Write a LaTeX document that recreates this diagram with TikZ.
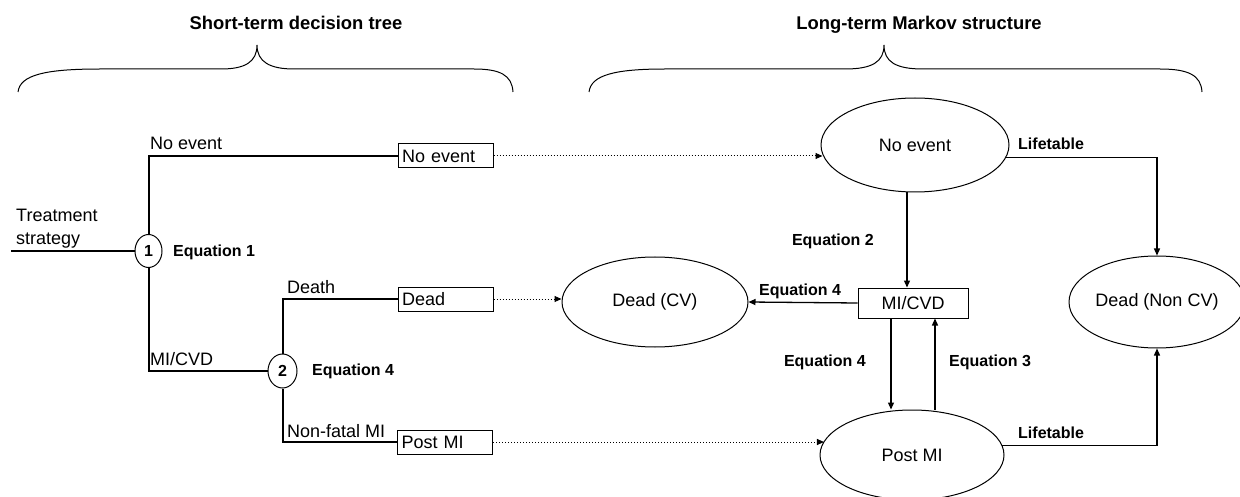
\documentclass[tikz,border=0pt]{standalone}
\usepackage{fontspec}
\setmainfont{Liberation Sans}
\usetikzlibrary{shapes.geometric,arrows.meta}
\begin{document}
\begin{tikzpicture}[x=1pt,y=-1pt,
  lbl/.style={font=\fontsize{18}{22}\selectfont, inner sep=0pt},
  eq/.style={font=\fontsize{16}{19}\selectfont\bfseries, inner sep=0pt},
  ttl/.style={font=\fontsize{18.4}{22}\selectfont\bfseries, inner sep=0pt},
  chance/.style={ellipse, draw, line width=1pt, minimum width=27pt, minimum height=33pt,
                 inner sep=0pt, font=\fontsize{16}{19}\selectfont\bfseries},
  leaf/.style={draw, line width=1pt, minimum height=24pt, text width=87pt, align=left,
               inner xsep=4pt, inner ysep=0pt, font=\fontsize{18}{22}\selectfont},
  state/.style={ellipse, draw, line width=1pt, inner sep=0pt, font=\fontsize{18}{22}\selectfont},
  branch/.style={line width=2pt},
  trans/.style={line width=1.3pt, -{Triangle[length=7pt,width=6pt]}},
  feed/.style={line width=1pt, dash pattern=on 1pt off 2pt, -{Triangle[length=7pt,width=6pt]}},
  brace/.style={line width=1pt},
]
\useasboundingbox (0,0) rectangle (1240,497);
\fill[white] (0,0) rectangle (1240,497);

% section titles and braces
\node[ttl, anchor=base] (t1) at (296,30) {Short-term decision tree};
\node[ttl, anchor=base] (t2) at (919,30) {Long-term Markov structure};
\draw[brace] (18,92) .. controls (20,75) and (45,69) .. (100,69) -- (221,69)
  .. controls (245,69) and (257,62) .. (257,45)
  .. controls (257,62) and (270,69) .. (294,69) -- (474,69)
  .. controls (500,69) and (512,75) .. (513,92);
\draw[brace] (589,92) .. controls (591,75) and (615,69) .. (665,69) -- (845,69)
  .. controls (872,69) and (884,62) .. (884,45)
  .. controls (884,62) and (896,69) .. (923,69) -- (1160,69)
  .. controls (1188,69) and (1201,75) .. (1202,92);

% decision tree
\node[lbl, anchor=base west] (tr1) at (16,222) {Treatment};
\node[lbl, anchor=base west] (tr2) at (16,244) {strategy};
\coordinate (root) at (11,251);
\node[chance] (c1) at (148.5,251) {1};
\node[eq, anchor=base west] (eq1) at (173,257) {Equation 1};
\node[chance, minimum width=29pt, minimum height=34pt] (c2) at (282.5,371) {2};
\node[eq, anchor=base west] (eq4a) at (312,375) {Equation 4};

\node[leaf] (bne) at (445.5,156) {No event};
\node[leaf] (bdead) at (445.5,299) {Dead};
\node[leaf] (bpost) at (445,442) {Post MI};

\draw[branch] (root) -- (c1.west);
\draw[branch] (c1.north) |- (bne.west);
\draw[branch] (c1.south) |- (c2.west);
\draw[branch] (c2.north) |- (bdead.west);
\draw[branch] (c2.south) |- (bpost.west);

\node[lbl, anchor=base west] (lne) at (150,150) {No event};
\node[lbl, anchor=base west] (lmi) at (150,365) {MI/CVD};
\node[lbl, anchor=base west] (ldeath) at (287,293) {Death};
\node[lbl, anchor=base west] (lnf) at (287,437) {Non-fatal MI};

% Markov states
\node[state, minimum width=188pt, minimum height=94pt] (sne) at (915,145) {No event};
\node[state, minimum width=186pt, minimum height=90pt] (scv) at (655,302) {Dead (CV)};
\node[draw, line width=1pt, minimum width=110pt, minimum height=30pt, inner sep=0pt,
      font=\fontsize{18}{22}\selectfont] (smi) at (913,303) {MI/CVD};
\node[state, minimum width=176pt, minimum height=92pt] (snc) at (1157,302) {Dead (Non CV)};
\node[state, minimum width=184pt, minimum height=90pt] (spm) at (912,455) {Post MI};

% tree outcomes feeding the Markov states
\draw[feed] (bne.east) -- (bne.east -| sne.186.8);
\draw[feed] (bdead.east) -- (bdead.east -| scv.west);
\draw[feed] (bpost.east) -- (bpost.east -| spm.171.6);

% transitions
\draw[trans] ([xshift=-6pt]smi.north |- sne.south) -- ([xshift=-6pt]smi.north);
\draw[trans] (smi.west) -- (scv.east);
\draw[trans] ([xshift=-22pt]smi.south) -- ([xshift=-22pt]smi.south |- spm.north);
\draw[trans] ([xshift=22pt]smi.south |- spm.north) -- ([xshift=22pt]smi.south);
\draw[trans] (sne.-8) -| (snc.north);
\draw[trans] (spm.6) -| (snc.south);

\node[eq, anchor=base east] (eq2) at (874,246) {Equation 2};
\node[eq, anchor=base west] (eq4b) at (759,295) {Equation 4};
\node[eq, anchor=base east] (eq4c) at (866,366) {Equation 4};
\node[eq, anchor=base west] (eq3) at (949,366) {Equation 3};
\node[eq, anchor=base west] (lt1) at (1018,150) {Lifetable};
\node[eq, anchor=base west] (lt2) at (1018,438) {Lifetable};
\end{tikzpicture}
\end{document}
